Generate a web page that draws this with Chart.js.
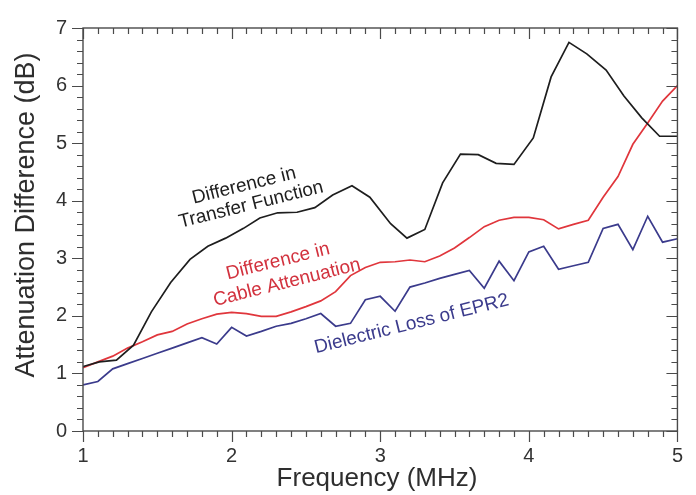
<!DOCTYPE html>
<html>
<head>
<meta charset="utf-8">
<script src="https://cdn.jsdelivr.net/npm/chart.js@4.4.1/dist/chart.umd.min.js"></script>
<style>
  html, body { margin: 0; padding: 0; background: #ffffff; }
  #wrap { width: 696px; height: 495px; position: relative; }
</style>
</head>
<body>
<div id="wrap"><canvas id="chart" width="696" height="495"></canvas></div>
<script>
// Difference in transfer function (sampled on its own frequency grid)
const freqTransfer = [1.00, 1.11, 1.225, 1.34, 1.46, 1.59, 1.72, 1.84, 1.96, 2.08, 2.19, 2.31,
  2.44, 2.56, 2.68, 2.81, 2.93, 3.07, 3.18, 3.30, 3.42, 3.54, 3.66, 3.78, 3.90, 4.03,
  4.15, 4.27, 4.39, 4.52, 4.64, 4.76, 4.88, 5.00];
const transferDiff = [1.12, 1.20, 1.23, 1.49, 2.07, 2.58, 2.98, 3.21, 3.35, 3.52, 3.70, 3.79,
  3.80, 3.88, 4.10, 4.26, 4.06, 3.60, 3.35, 3.50, 4.31, 4.81, 4.80, 4.65, 4.63, 5.09,
  6.15, 6.75, 6.55, 6.27, 5.82, 5.44, 5.12, 5.12];

// Cable attenuation difference and dielectric loss, every 0.1 MHz
const freq = [1.0, 1.1, 1.2, 1.3, 1.4, 1.5, 1.6, 1.7, 1.8, 1.9, 2.0, 2.1, 2.2, 2.3, 2.4, 2.5,
  2.6, 2.7, 2.8, 2.9, 3.0, 3.1, 3.2, 3.3, 3.4, 3.5, 3.6, 3.7, 3.8, 3.9, 4.0, 4.1, 4.2, 4.3,
  4.4, 4.5, 4.6, 4.7, 4.8, 4.9, 5.0];
const cableDiff = [1.10, 1.20, 1.30, 1.44, 1.55, 1.67, 1.73, 1.86, 1.95, 2.03, 2.06, 2.04,
  1.99, 1.99, 2.07, 2.16, 2.26, 2.42, 2.70, 2.84, 2.93, 2.94, 2.97, 2.94, 3.04, 3.18, 3.36,
  3.55, 3.66, 3.71, 3.71, 3.67, 3.51, 3.59, 3.66, 4.06, 4.42, 4.98, 5.35, 5.73, 6.00];
const dielectricLoss = [0.80, 0.86, 1.08, 1.17, 1.26, 1.35, 1.44, 1.53, 1.62, 1.51, 1.80, 1.65,
  1.73, 1.82, 1.87, 1.95, 2.04, 1.82, 1.87, 2.28, 2.34, 2.08, 2.50, 2.57, 2.65, 2.72, 2.79,
  2.48, 2.95, 2.61, 3.11, 3.21, 2.81, 2.87, 2.93, 3.52, 3.59, 3.15, 3.73, 3.28, 3.34];

// Axis tick labels
const xTicks = [1, 2, 3, 4, 5];
const yTicks = [0, 1, 2, 3, 4, 5, 6, 7];

const FONT = '"Liberation Sans", Arial, Helvetica, sans-serif';
const COLORS = { transfer: '#1e1e1e', cable: '#e0363c', dielectric: '#3b3b8c' };

const pairs = (xs, ys) => xs.map((x, i) => ({ x: x, y: ys[i] }));

// In-plot curve labels, anchored in data coordinates
const curveLabels = [
  { lines: [{ t: 'Difference in', x: 2.084, y: 4.26 }, { t: 'Transfer Function', x: 2.131, y: 3.93 }], color: '#1e1e1e' },
  { lines: [{ t: 'Difference in', x: 2.312, y: 2.945 }, { t: 'Cable Attenuation', x: 2.372, y: 2.577 }], color: '#d2323e' },
  { lines: [{ t: 'Dielectric Loss of EPR2', x: 3.211, y: 1.857 }], color: '#3b3b8c' }
];

// Frame, tick marks (minor + major) and axis titles
const framePlugin = {
  id: 'frame',
  afterDraw(chart) {
    const { ctx, chartArea: a, scales: { x, y } } = chart;
    ctx.save();
    ctx.strokeStyle = '#4a4a4a';
    ctx.lineWidth = 1.4;
    ctx.strokeRect(a.left, a.top, a.right - a.left, a.bottom - a.top);

    ctx.lineWidth = 1.2;
    ctx.beginPath();
    // x ticks every 0.1, major at integers; bottom point outward, top point inward
    for (let k = 0; k <= 40; k++) {
      const v = 1 + k / 10;
      const px = Math.round(x.getPixelForValue(v)) + 0.5;
      const len = (k % 10 === 0) ? 11 : 6;
      ctx.moveTo(px, a.bottom); ctx.lineTo(px, a.bottom + len);
      ctx.moveTo(px, a.top); ctx.lineTo(px, a.top + len);
    }
    // y ticks every 0.2, major at integers; left point outward, right point inward
    for (let k = 0; k <= 35; k++) {
      const v = k / 5;
      const py = Math.round(y.getPixelForValue(v)) + 0.5;
      const len = (k % 5 === 0) ? 11 : 6;
      ctx.moveTo(a.left, py); ctx.lineTo(a.left - len, py);
      ctx.moveTo(a.right, py); ctx.lineTo(a.right - len, py);
    }
    ctx.stroke();

    // axis titles
    ctx.fillStyle = '#2e2e2e';
    ctx.textAlign = 'center';
    ctx.textBaseline = 'middle';
    ctx.font = '26px ' + FONT;
    ctx.fillText('Frequency (MHz)', 377, 479);
    ctx.save();
    ctx.translate(27, 215);
    ctx.rotate(-Math.PI / 2);
    ctx.font = '27px ' + FONT;
    ctx.fillText('Attenuation Difference (dB)', 0, 0);
    ctx.restore();

    // curve labels
    ctx.font = '19px ' + FONT;
    curveLabels.forEach(lbl => {
      ctx.fillStyle = lbl.color;
      lbl.lines.forEach(l => {
        ctx.save();
        ctx.translate(x.getPixelForValue(l.x), y.getPixelForValue(l.y));
        ctx.rotate(-14 * Math.PI / 180);
        ctx.fillText(l.t, 0, 0);
        ctx.restore();
      });
    });
    ctx.restore();
  }
};

new Chart(document.getElementById('chart'), {
  type: 'line',
  data: {
    datasets: [
      { label: 'Difference in Transfer Function', data: pairs(freqTransfer, transferDiff),
        borderColor: COLORS.transfer, borderWidth: 1.7 },
      { label: 'Difference in Cable Attenuation', data: pairs(freq, cableDiff),
        borderColor: COLORS.cable, borderWidth: 1.7 },
      { label: 'Dielectric Loss of EPR2', data: pairs(freq, dielectricLoss),
        borderColor: COLORS.dielectric, borderWidth: 1.7 }
    ]
  },
  options: {
    responsive: false,
    animation: false,
    devicePixelRatio: 1,
    layout: { padding: { top: 13, right: 15.4, left: 0, bottom: 0 } },
    elements: { point: { radius: 0 }, line: { tension: 0, fill: false } },
    plugins: { legend: { display: false }, tooltip: { enabled: false } },
    scales: {
      x: {
        type: 'linear', min: 1, max: 5,
        grid: { display: false, drawTicks: false },
        border: { display: false },
        afterBuildTicks: s => { s.ticks = xTicks.map(v => ({ value: v })); },
        afterFit: s => { s.height = 64; },
        ticks: { padding: 13, color: '#333333', font: { family: FONT, size: 20 } }
      },
      y: {
        type: 'linear', min: 0, max: 7,
        grid: { display: false, drawTicks: false },
        border: { display: false },
        afterBuildTicks: s => { s.ticks = yTicks.map(v => ({ value: v })); },
        afterFit: s => { s.width = 83; },
        ticks: { padding: 16, color: '#333333', font: { family: FONT, size: 20 } }
      }
    }
  },
  plugins: [framePlugin]
});
</script>
</body>
</html>
